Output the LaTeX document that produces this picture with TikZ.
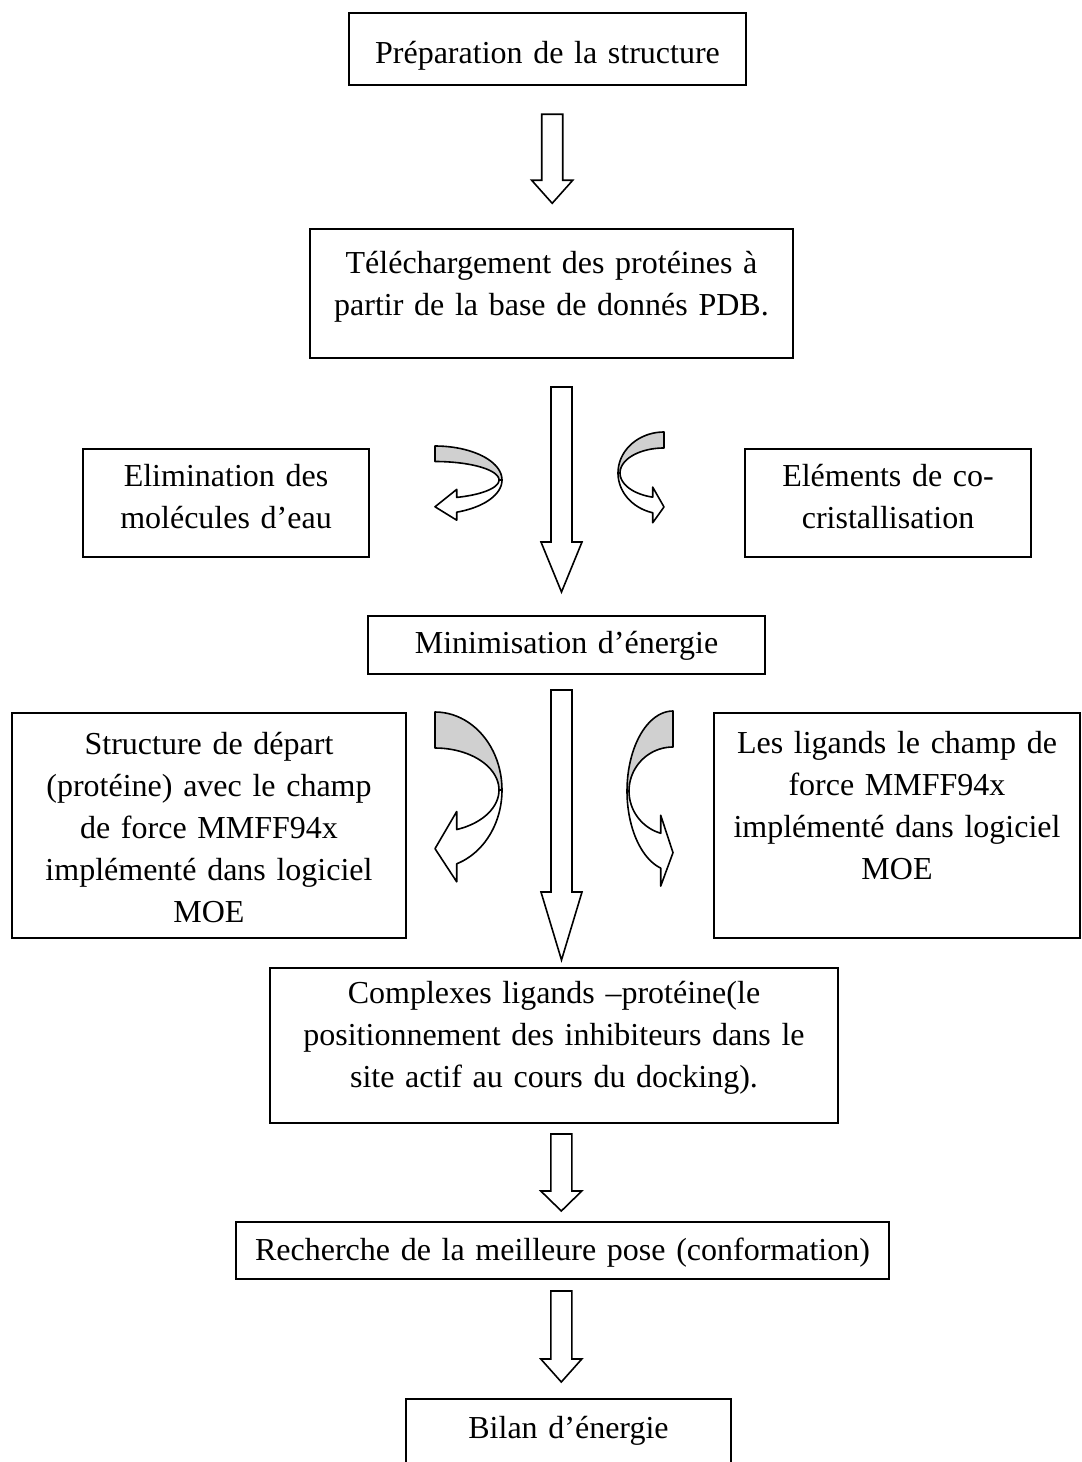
\documentclass[tikz,border=0pt]{standalone}
\usepackage{fontspec}
\setmainfont{Liberation Serif}
\definecolor{ribbongray}{RGB}{208,208,208}

\tikzset{
  stepbox/.style={draw, line width=0.8pt, inner sep=0pt, align=center, anchor=north,
    font=\fontsize{12pt}{15.75pt}\selectfont},
  blockarrow/.style={draw, line width=0.6pt, fill=white, line join=miter},
  ribbon/.style={draw, line width=0.6pt, line join=round},
}

% Pfeil nach unten: Anfang, Schaftlaenge, Spitzenlaenge
\newcommand\blockdown[3]{%
  \draw[blockarrow] (#1) ++(-10.5,0) -- ++(0,#2) -- ++(-10,0) -- ++(20.5,#3)
    -- ++(20.5,-#3) -- ++(-10,0) -- ++(0,-#2) -- cycle;}

% gebogener Bandpfeil: x, y, Seite, rx/ry aussen, rx/ry innen, Spitze, Ueberstand
\newcommand\ribbonarrow[9]{%
  \begin{scope}[shift={(#1,#2)}, xscale=#3]
    \pgfmathsetmacro\ta{acos(#8/#4)}
    \pgfmathsetmacro\tb{acos(#8/#6)}
    \pgfmathsetmacro\yo{#5*sin(\ta)}
    \pgfmathsetmacro\yi{#7*sin(\tb)}
    \filldraw[ribbon, fill=ribbongray] plot[domain=-90:0] ({#4*cos(\x)},{#5*sin(\x)})
      -- plot[domain=0:-90] ({#6*cos(\x)},{#7*sin(\x)}) -- cycle;
    \filldraw[ribbon, fill=white] plot[domain=0:\ta] ({#4*cos(\x)},{#5*sin(\x)})
      -- (#8,{\yo+#9}) -- (0,{(\yo+\yi)/2+2}) -- (#8,{\yi-#9})
      -- plot[domain=\tb:0] ({#6*cos(\x)},{#7*sin(\x)}) -- cycle;
  \end{scope}}

\begin{document}
\begin{tikzpicture}[x=0.375pt, y=-0.375pt]
  \clip (0,0) rectangle (1082,1462);

  % Etapes
  \node[stepbox, text width=148.9pt, text height=19.1pt, text depth=7.9pt] (prep) at (547.5,12)
    {Préparation de la structure};
  \node[stepbox, text width=181.1pt, text height=16.5pt, text depth=31.9pt] (telech) at (551.5,228)
    {Téléchargement des protéines à\\partir de la base de donnés PDB.};
  \node[stepbox, text width=107.3pt, text height=13.9pt, text depth=26.6pt] (elim) at (226,448)
    {Elimination des\\molécules d’eau};
  \node[stepbox, text width=107.3pt, text height=13.9pt, text depth=26.6pt] (elem) at (888,448)
    {Eléments de co-\\cristallisation};
  \node[stepbox, text width=148.9pt, text height=13.9pt, text depth=7.9pt] (minim) at (566.5,615)
    {Minimisation d’énergie};
  \node[stepbox, text width=147.8pt, text height=15.4pt, text depth=69pt] (struct) at (209,712)
    {Structure de départ\\(protéine) avec le champ\\de force MMFF94x\\implémenté dans logiciel\\MOE};
  \node[stepbox, text width=137.3pt, text height=15pt, text depth=69.4pt] (ligands) at (897,712)
    {Les ligands le champ de\\force MMFF94x\\implémenté dans logiciel\\MOE};
  \node[stepbox, text width=213pt, text height=13.1pt, text depth=45pt] (complexes) at (554,967)
    {Complexes ligands –protéine(le\\positionnement des inhibiteurs dans le\\site actif au cours du docking).};
  \node[stepbox, text width=244.9pt, text height=14.3pt, text depth=7.1pt] (recherche) at (562.5,1221)
    {Recherche de la meilleure pose (conformation)};
  \node[stepbox, text width=121.9pt, text height=14.6pt, text depth=19.1pt] (bilan) at (568.5,1398)
    {Bilan d’énergie};

  % Pfeile nach unten
  \foreach \n/\cx/\top/\len/\tip in {1/552.2/114.3/66/23, 2/561.5/387/155/50,
      3/561.5/690/202/68, 4/561.3/1134/57/20, 5/561.3/1291/68/23}{
    \coordinate (arr\n) at (\cx,\top);
    \blockdown{arr\n}{\len}{\tip}
  }

  % Bandpfeile
  \ribbonarrow{435}{480}{1}{67}{34}{64}{18.5}{21.7}{8}
  \ribbonarrow{664}{473}{-1}{46}{41}{44}{25}{11.3}{10}
  \ribbonarrow{435}{790}{1}{67}{78}{64}{42}{21.7}{18}
  \ribbonarrow{673}{791}{-1}{46}{80}{44}{44}{12.3}{18}
\end{tikzpicture}
\end{document}
